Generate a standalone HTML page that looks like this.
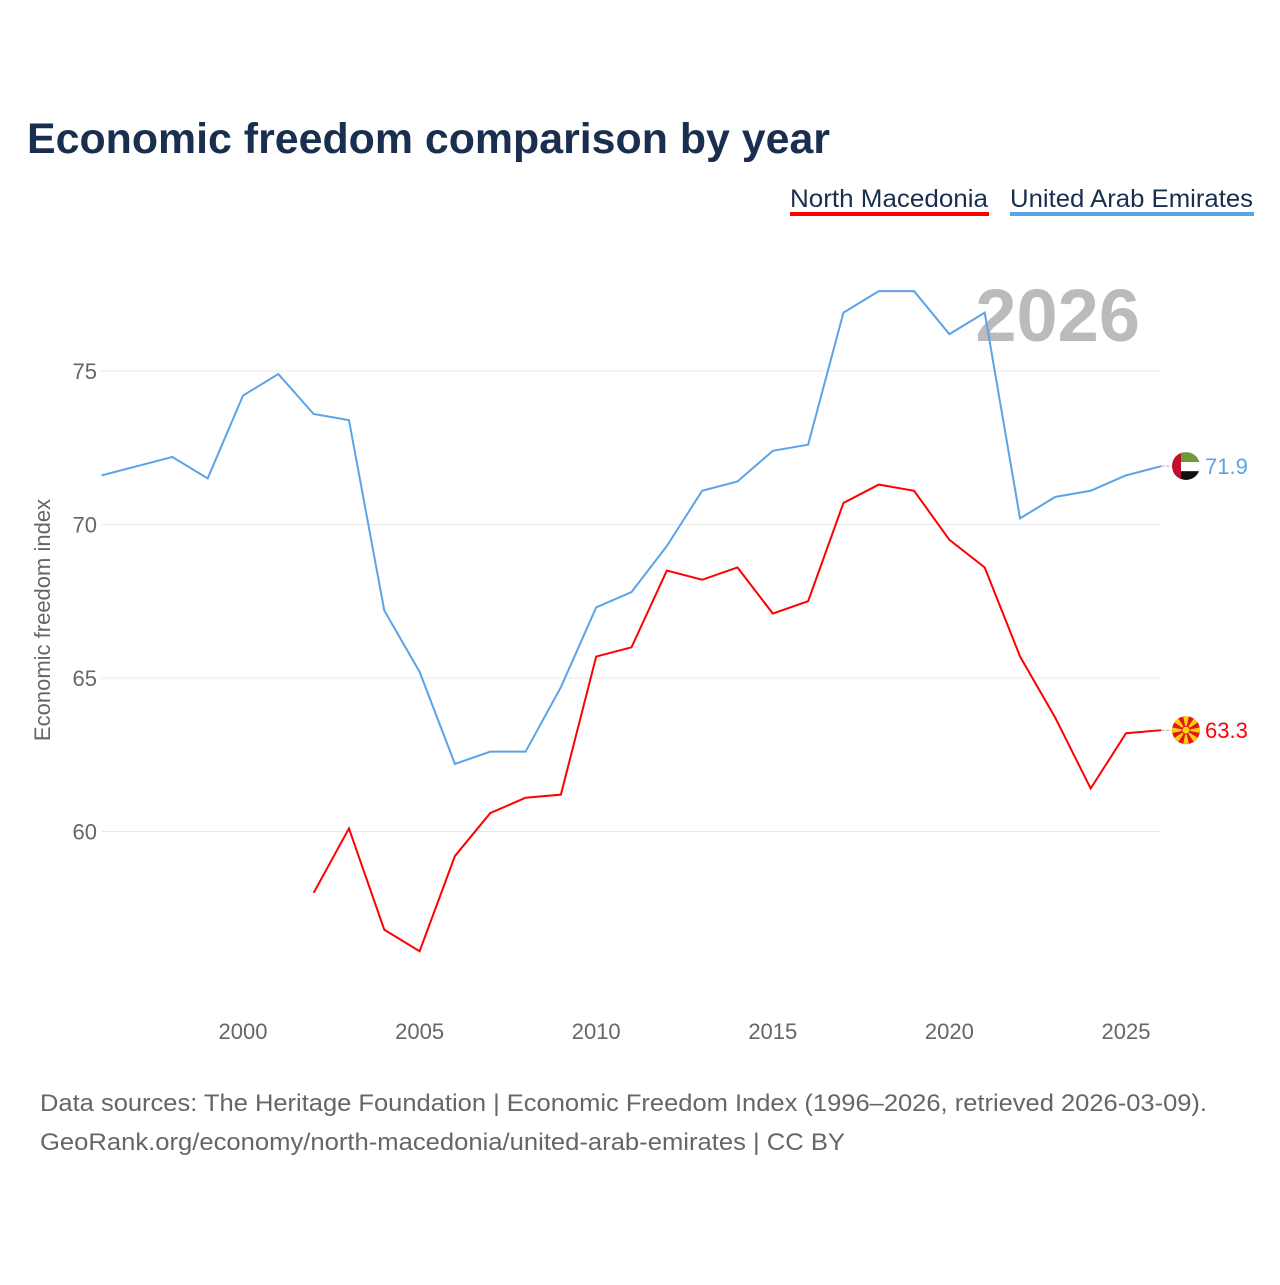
<!DOCTYPE html>
<html><head><meta charset="utf-8"><style>
body{margin:0;background:#fff;font-family:"Liberation Sans",sans-serif}
#c{position:relative;width:1280px;height:1280px}
</style></head><body>
<div id="c">
<svg id="svg" width="1280" height="1280">
<defs><clipPath id="cu"><circle cx="1186" cy="466" r="14"/></clipPath><clipPath id="cm"><circle cx="1186" cy="730" r="14"/></clipPath></defs>
<text x="27" y="153" font-size="43" font-weight="bold" fill="#1a2e4f" textLength="803" lengthAdjust="spacingAndGlyphs">Economic freedom comparison by year</text>
<g><text x="790" y="207" font-size="25" fill="#1a2e4f" textLength="198" lengthAdjust="spacingAndGlyphs">North Macedonia</text><rect x="790" y="212" width="199" height="4" fill="#ff0000"/></g>
<g><text x="1010" y="207" font-size="25" fill="#1a2e4f" textLength="243" lengthAdjust="spacingAndGlyphs">United Arab Emirates</text><rect x="1010" y="212" width="244" height="4" fill="#5ba3e8"/></g>
<text x="1140" y="341" font-size="74" font-weight="bold" fill="#bbbbbb" text-anchor="end">2026</text>
<g id="grid"></g><g id="xt"></g><g id="lines"></g>
<text transform="translate(50,620) rotate(-90)" font-size="22" fill="#666" text-anchor="middle">Economic freedom index</text>
<text x="40" y="1111" font-size="24" fill="#666" textLength="1167" lengthAdjust="spacingAndGlyphs">Data sources: The Heritage Foundation | Economic Freedom Index (1996–2026, retrieved 2026-03-09).</text>
<text x="40" y="1150" font-size="24" fill="#666" textLength="805" lengthAdjust="spacingAndGlyphs">GeoRank.org/economy/north-macedonia/united-arab-emirates | CC BY</text>
</svg></div>
<script>
const yearsUAE=[1996,1997,1998,1999,2000,2001,2002,2003,2004,2005,2006,2007,2008,2009,2010,2011,2012,2013,2014,2015,2016,2017,2018,2019,2020,2021,2022,2023,2024,2025,2026];
const uae=[71.6,71.9,72.2,71.5,74.2,74.9,73.6,73.4,67.2,65.2,62.2,62.6,62.6,64.7,67.3,67.8,69.3,71.1,71.4,72.4,72.6,76.9,77.6,77.6,76.2,76.9,70.2,70.9,71.1,71.6,71.9];
const yearsMK=[2002,2003,2004,2005,2006,2007,2008,2009,2010,2011,2012,2013,2014,2015,2016,2017,2018,2019,2020,2021,2022,2023,2024,2025,2026];
const mk=[58.0,60.1,56.8,56.1,59.2,60.6,61.1,61.2,65.7,66.0,68.5,68.2,68.6,67.1,67.5,70.7,71.3,71.1,69.5,68.6,65.7,63.7,61.4,63.2,63.3];
const yTicks=[60,65,70,75];
const xTicks=[2000,2005,2010,2015,2020,2025];
const X=y=>243+(y-2000)*35.32, Y=v=>371+(75-v)*30.7;
const NS='http://www.w3.org/2000/svg';
function mk_(t,a,p){const e=document.createElementNS(NS,t);for(const k in a)e.setAttribute(k,a[k]);p.appendChild(e);return e;}
const g=document.getElementById('grid');
yTicks.forEach(v=>{
 const l=mk_('line',{x1:101,x2:1161,y1:Y(v),y2:Y(v),stroke:'#e8e8e8'},g);
 
 
 const t=mk_('text',{x:97,y:Y(v)+8,'font-size':22,fill:'#666','text-anchor':'end'},g);t.textContent=v;
 
 
});
const xt=document.getElementById('xt');
xTicks.forEach(v=>{
 const t=mk_('text',{x:X(v),y:1039,'font-size':22,fill:'#666','text-anchor':'middle'},xt);t.textContent=v;
 
 
});
const L=document.getElementById('lines');
function series(ys,vs,col,name,flag){
 const p=mk_('polyline',{points:ys.map((y,i)=>X(y)+','+Y(vs[i])).join(' '),fill:'none',stroke:col,'stroke-width':2},L);
 
 
 const lv=vs[vs.length-1],ly=Y(lv);
 mk_('line',{x1:X(ys[ys.length-1]),x2:1172,y1:ly,y2:ly,stroke:'#aaa','stroke-dasharray':'3,2'},L);
 const fg=mk_('g',{},L);
 
 
 if(flag==='uae'){
  const cp='url(#cu)';
  mk_('rect',{x:1172,y:ly-14,width:28,height:10,fill:'#6a9a3a','clip-path':cp},fg);
  mk_('rect',{x:1172,y:ly-4,width:28,height:9,fill:'#fff','clip-path':cp},fg);
  mk_('rect',{x:1172,y:ly+5,width:28,height:10,fill:'#111','clip-path':cp},fg);
  mk_('rect',{x:1172,y:ly-14,width:9,height:28,fill:'#c0102a','clip-path':cp},fg);
 }else{
  const cp='url(#cm)';
  mk_('circle',{cx:1186,cy:ly,r:14,fill:'#e8141c'},fg);
  for(let a=0;a<8;a++){const an=a*Math.PI/4;
   mk_('polygon',{points:`1186,${ly} ${1186+20*Math.cos(an-0.2)},${ly+20*Math.sin(an-0.2)} ${1186+20*Math.cos(an+0.2)},${ly+20*Math.sin(an+0.2)}`,fill:'#f8d10a','clip-path':cp},fg);}
  mk_('circle',{cx:1186,cy:ly,r:4,fill:'#f8d10a',stroke:'#e8141c','stroke-width':1},fg);
 }
 const t=mk_('text',{x:1205,y:ly+8,'font-size':22,fill:col},L);t.textContent=lv.toFixed(1);
 
 
}
series(yearsUAE,uae,'#5ba3e8','uae','uae');
series(yearsMK,mk,'#ff0000','north-macedonia','mk');
</script>
</body></html>
